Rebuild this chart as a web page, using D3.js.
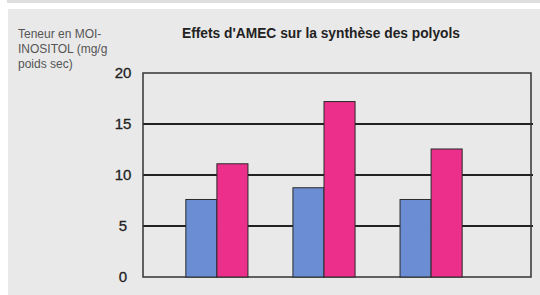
<!DOCTYPE html>
<html>
    <head>
        <meta charset="utf-8">
        <title>Effets d'AMEC sur la synthèse des polyols</title>
        <script src="https://d3js.org/d3.v7.min.js"></script>
    </head>

    <body>
        <div id="root"></div>
    </body>

    <style>
body {
    margin: 0;
    background: #ffffff;
}
svg {
    display: block;
}
    </style>

    <script>
        // valeurs
        let groups = ['Groupe 1', 'Groupe 2', 'Groupe 3'];
        let series = ['Témoin', 'AMEC'];
        let values_blue = [7.6, 8.75, 7.6];
        let values_pink = [11.1, 17.2, 12.55];
        let y_ticks = [0, 5, 10, 15, 20];
        let grid_values = [5, 10, 15];
        let y_label = ['Teneur en MOI-', 'INOSITOL (mg/g', 'poids sec)'];
        let title = "Effets d'AMEC sur la synthèse des polyols";

        let render_chart = () => {
            let width = 540;
            let height = 295;
            let plot = { left: 143, right: 531, top: 73, bottom: 277 };

            let blue = '#6b8dd4';
            let pink = '#ec2f8b';

            let svg = d3.select('#root').html('')
                .append('svg')
                .attr('width', width)
                .attr('height', height)
                .attr('font-family', 'Liberation Sans, Arial, sans-serif');

            // fond
            svg.append('rect')
                .attr('x', 7).attr('y', 0)
                .attr('width', width - 7).attr('height', 3)
                .attr('fill', '#dedede');
            svg.append('rect')
                .attr('x', 8).attr('y', 9)
                .attr('width', width - 8).attr('height', height - 9)
                .attr('fill', '#e9e9e9');

            let scale_y = d3.scaleLinear().domain([0, 20]).range([plot.bottom, plot.top]);
            let scale_x = d3.scaleBand().domain(groups).range([143, 505])
                .paddingInner(0.42).paddingOuter(0.4);
            let scale_sub = d3.scaleBand().domain(series).range([0, scale_x.bandwidth()]);

            // lignes de grille
            svg.append('g')
                .selectAll('line')
                .data(grid_values)
                .join('line')
                .attr('x1', plot.left)
                .attr('x2', plot.right + 2)
                .attr('y1', d => scale_y(d))
                .attr('y2', d => scale_y(d))
                .attr('stroke', '#222')
                .attr('stroke-width', 2);

            // cadre
            svg.append('rect')
                .attr('x', plot.left)
                .attr('y', plot.top)
                .attr('width', plot.right - plot.left)
                .attr('height', plot.bottom - plot.top)
                .attr('fill', 'none')
                .attr('stroke', '#333')
                .attr('stroke-width', 1.5);

            // barres
            let data = groups.map((g, i) => ({ group: g, vals: [values_blue[i], values_pink[i]] }));
            svg.append('g')
                .selectAll('g')
                .data(data)
                .join('g')
                .attr('transform', d => `translate(${scale_x(d.group)}, 0)`)
                .selectAll('rect')
                .data(d => d.vals.map((v, k) => ({ serie: series[k], value: v })))
                .join('rect')
                .attr('x', d => scale_sub(d.serie))
                .attr('y', d => scale_y(d.value))
                .attr('width', scale_sub.bandwidth())
                .attr('height', d => scale_y(0) - scale_y(d.value))
                .attr('fill', (d, k) => k === 0 ? blue : pink)
                .attr('stroke', '#2a2a2a')
                .attr('stroke-width', 1);

            // axe des ordonnées
            let axis_y = svg.append('g')
                .attr('transform', `translate(${plot.left}, 0)`)
                .call(d3.axisLeft(scale_y).tickValues(y_ticks).tickSize(0).tickPadding(10));
            axis_y.select('.domain').remove();
            axis_y.selectAll('text')
                .attr('font-size', 15)
                .attr('font-family', 'Liberation Sans, Arial, sans-serif')
                .attr('fill', '#222')
                .attr('stroke', '#222')
                .attr('stroke-width', 0.3)
                .attr('text-anchor', 'middle')
                .attr('x', -20);

            // titre
            svg.append('text')
                .attr('x', 182)
                .attr('y', 38)
                .attr('font-size', 14)
                .attr('font-weight', 'bold')
                .attr('fill', '#222')
                .attr('textLength', 278)
                .attr('lengthAdjust', 'spacingAndGlyphs')
                .text(title);

            // libellé de l'axe
            svg.append('g')
                .selectAll('text')
                .data(y_label)
                .join('text')
                .attr('x', 18)
                .attr('y', (d, i) => 38 + i * 15)
                .attr('font-size', 12)
                .attr('fill', '#555')
                .text(d => d);
        };

        render_chart();
    </script>
</html>
